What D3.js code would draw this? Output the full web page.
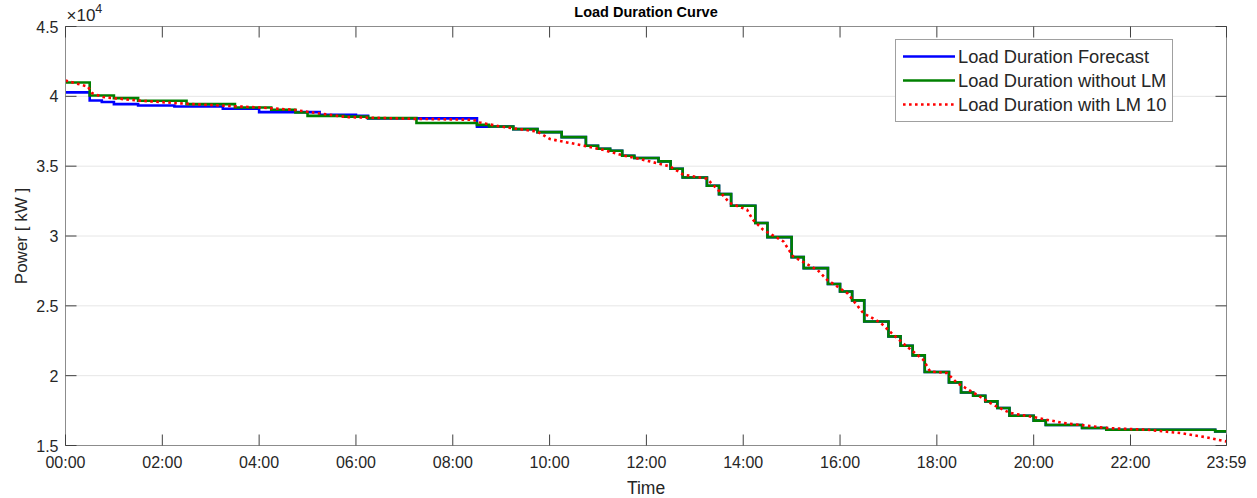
<!DOCTYPE html>
<html>
<head>
<meta charset="utf-8">
<script src="https://cdn.jsdelivr.net/npm/d3@7"></script>
<style>
  body { margin: 0; background: #fff; }
  svg { font-family: "Liberation Sans", Arial, sans-serif; }
  .tick-label { font-size: 16px; fill: #262626; }
  .legend text { font-size: 18.3px; fill: #262626; }
</style>
</head>
<body>
<svg width="1257" height="498"></svg>
<script>
// time in hours (start of each step), load in kW
var greenTimes = [0, 0.5, 1.0, 1.5, 2.5, 3.5, 4.25, 4.75, 5.0, 5.75, 6.25, 7.25, 8.5, 8.75,
  9.25, 9.75, 10.25, 10.75, 11.0, 11.25, 11.5, 11.75, 12.25, 12.5, 12.75, 13.25, 13.5, 13.75,
  14.25, 14.5, 15.0, 15.25, 15.75, 16.0, 16.25, 16.5, 17.0, 17.25, 17.5, 17.75, 18.25, 18.5,
  18.75, 19.0, 19.25, 19.5, 20.0, 20.25, 21.0, 21.5, 23.75];
var greenLoad = [40990, 40060, 39870, 39680, 39440, 39200, 39040, 38840, 38600, 38550, 38440, 38090, 37960, 37840,
  37650, 37440, 37080, 36460, 36250, 36100, 35750, 35580, 35340, 34810, 34190, 33600, 33000, 32170,
  30930, 29920, 28490, 27700, 26560, 26030, 25390, 23880, 22810, 22140, 21450, 20260, 19520, 18800,
  18560, 18160, 17680, 17130, 16780, 16470, 16250, 16130, 16010];

var blueTimes = [0, 0.5, 0.75, 1.0, 1.5, 2.25, 3.25, 4.0, 5.25, 6.0, 6.25, 8.5, 8.75,
  9.25, 9.75, 10.25, 10.75, 11.0, 11.25, 11.5, 11.75, 12.25, 12.5, 12.75, 13.25, 13.5, 13.75,
  14.25, 14.5, 15.0, 15.25, 15.75, 16.0, 16.25, 16.5, 17.0, 17.25, 17.5, 17.75, 18.25, 18.5,
  18.75, 19.0, 19.25, 19.5, 20.0, 20.25, 21.0, 21.5, 23.75];
var blueLoad = [40280, 39700, 39590, 39440, 39340, 39270, 39110, 38870, 38680, 38600, 38420, 37820, 37840,
  37650, 37440, 37080, 36460, 36250, 36100, 35750, 35580, 35340, 34810, 34190, 33600, 33000, 32170,
  30930, 29920, 28490, 27700, 26560, 26030, 25390, 23880, 22810, 22140, 21450, 20260, 19520, 18800,
  18560, 18160, 17680, 17130, 16780, 16470, 16250, 16130, 16010];

var redTimes = [0, 0.46, 0.55, 0.77, 1.48, 2.63, 4.02, 4.7, 5.11, 5.82, 7.18, 8.42, 8.56, 8.98,
  9.74, 10.01, 10.36, 10.69, 11.1, 11.52, 11.87, 12.49, 12.76, 13.25, 13.51, 13.72, 14.08, 14.2,
  14.41, 14.83, 15.03, 15.53, 15.73, 16.15, 16.48, 16.83, 17.1, 17.38, 17.72, 17.86, 18.21, 18.42,
  18.75, 19.16, 19.51, 19.99, 20.61, 21.52, 22.35, 23.03, 23.58, 23.98];
var redLoad = [41130, 40700, 40230, 39950, 39700, 39440, 39200, 39040, 38840, 38510, 38390, 38320, 38130, 37840,
  37480, 36940, 36700, 36480, 36170, 35770, 35510, 34980, 34400, 34100, 33200, 32360, 31880, 31160,
  30450, 29610, 28540, 27580, 26870, 25910, 24480, 23810, 22930, 22090, 21140, 20300, 20190, 19470,
  18800, 17920, 17330, 17040, 16610, 16250, 16130, 15890, 15580, 15290];

var seriesNames = ["Load Duration Forecast", "Load Duration without LM", "Load Duration with LM 10"];
var xTicks = [0, 2, 4, 6, 8, 10, 12, 14, 16, 18, 20, 22, 1439 / 60];
var xTickLabels = ["00:00", "02:00", "04:00", "06:00", "08:00", "10:00", "12:00", "14:00", "16:00", "18:00", "20:00", "22:00", "23:59"];
var yTicks = [15000, 20000, 25000, 30000, 35000, 40000, 45000];
var yTickLabels = ["1.5", "2", "2.5", "3", "3.5", "4", "4.5"];

var svg = d3.select("svg");
var plotLeft = 65.5, plotRight = 1226.5, plotTop = 26.5, plotBottom = 445.5;
var endTime = 1439 / 60;

var x = d3.scaleLinear().domain([0, endTime]).range([plotLeft, plotRight]);
var y = d3.scaleLinear().domain([15000, 45000]).range([plotBottom, plotTop]);

// grid
svg.append("g").selectAll("line").data(yTicks.slice(1, -1)).enter().append("line")
  .attr("x1", plotLeft).attr("x2", plotRight)
  .attr("y1", function(d) { return y(d); }).attr("y2", function(d) { return y(d); })
  .attr("stroke", "#e6e6e6").attr("stroke-width", 1);

function stepPoints(times, load) {
  var pts = times.map(function(t, i) { return [t, load[i]]; });
  pts.push([endTime, load[load.length - 1]]);
  return pts;
}

var stepLine = d3.line().x(function(d) { return x(d[0]); }).y(function(d) { return y(d[1]); })
  .curve(d3.curveStepAfter);
var plainLine = d3.line().x(function(d) { return x(d[0]); }).y(function(d) { return y(d[1]); });

svg.append("path").datum(stepPoints(blueTimes, blueLoad))
  .attr("d", stepLine).attr("fill", "none").attr("stroke", "#0000ff").attr("stroke-width", 2.6);
svg.append("path").datum(stepPoints(greenTimes, greenLoad))
  .attr("d", stepLine).attr("fill", "none").attr("stroke", "#008000").attr("stroke-width", 2.6);
svg.append("path").datum(redTimes.map(function(t, i) { return [t, redLoad[i]]; }))
  .attr("d", plainLine).attr("fill", "none").attr("stroke", "#ff0000").attr("stroke-width", 2.6)
  .attr("stroke-dasharray", "2.6,3.4");

// axes box
svg.append("rect").attr("x", plotLeft).attr("y", plotTop).attr("width", plotRight - plotLeft).attr("height", plotBottom - plotTop)
  .attr("fill", "none").attr("stroke", "#8c8c8c").attr("stroke-width", 1);

var tickG = svg.append("g").attr("stroke", "#404040").attr("stroke-width", 1);
xTicks.forEach(function(t) {
  tickG.append("line").attr("x1", x(t)).attr("x2", x(t)).attr("y1", plotBottom).attr("y2", plotBottom - 11);
  tickG.append("line").attr("x1", x(t)).attr("x2", x(t)).attr("y1", plotTop).attr("y2", plotTop + 11);
});
yTicks.forEach(function(v) {
  tickG.append("line").attr("x1", plotLeft).attr("x2", plotLeft + 11).attr("y1", y(v)).attr("y2", y(v));
  tickG.append("line").attr("x1", plotRight).attr("x2", plotRight - 11).attr("y1", y(v)).attr("y2", y(v));
});

svg.append("g").selectAll("text").data(xTicks).enter().append("text")
  .attr("class", "tick-label")
  .attr("x", function(d) { return x(d); }).attr("y", plotBottom + 22)
  .attr("text-anchor", "middle")
  .text(function(d, i) { return xTickLabels[i]; });

svg.append("g").selectAll("text").data(yTicks).enter().append("text")
  .attr("class", "tick-label")
  .attr("x", plotLeft - 7).attr("y", function(d) { return y(d) + 6; })
  .attr("text-anchor", "end")
  .text(function(d, i) { return yTickLabels[i]; });

var expo = svg.append("text").attr("class", "tick-label").attr("x", plotLeft + 1).attr("y", 21)
  .style("font-size", "17px");
expo.append("tspan").text("\u00d710");
expo.append("tspan").attr("dy", -8).style("font-size", "12.5px").text("4");

svg.append("text").attr("x", (plotLeft + plotRight) / 2).attr("y", 17).attr("text-anchor", "middle")
  .style("font-size", "14.5px").style("font-weight", "bold").attr("fill", "#000")
  .text("Load Duration Curve");

svg.append("text").attr("x", (plotLeft + plotRight) / 2).attr("y", 494).attr("text-anchor", "middle")
  .style("font-size", "17.5px").attr("fill", "#262626").text("Time");

svg.append("text").attr("transform", "translate(27," + ((plotTop + plotBottom) / 2) + ") rotate(-90)")
  .attr("text-anchor", "middle").style("font-size", "17px").attr("fill", "#262626")
  .text("Power [ kW ]");

// legend
var legend = svg.append("g").attr("class", "legend");
legend.append("rect").attr("x", 895.5).attr("y", 39.5).attr("width", 277).attr("height", 82)
  .attr("fill", "#fff").attr("stroke", "#a0a0a0").attr("stroke-width", 1);
var legColors = ["#0000ff", "#008000", "#ff0000"];
seriesNames.forEach(function(name, i) {
  var ly = 56.5 + i * 24;
  var ln = legend.append("line").attr("x1", 903).attr("x2", 955).attr("y1", ly).attr("y2", ly)
    .attr("stroke", legColors[i]).attr("stroke-width", 2.6);
  if (i === 2) ln.attr("stroke-dasharray", "2.6,3.4");
  legend.append("text").attr("x", 958).attr("y", ly + 6.5).text(name);
});
</script>
</body>
</html>
